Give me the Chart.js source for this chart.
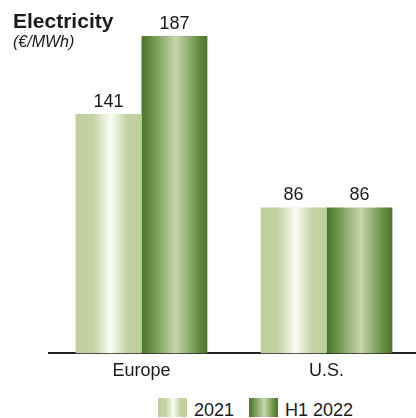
<!DOCTYPE html>
<html>
<head>
<meta charset="utf-8">
<script src="https://cdn.jsdelivr.net/npm/chart.js@4"></script>
<style>
  body {
    margin: 0;
    width: 416px;
    height: 418px;
    overflow: hidden;
    background: #fff;
    font-family: "Liberation Sans", Arial, sans-serif;
    color: #1a1a1a;
  }
  #painel {
    position: relative;
    width: 416px;
    height: 418px;
  }
  #grafico {
    position: absolute;
    left: 0;
    top: 0;
  }
  .titulo {
    position: absolute;
    left: 13px;
    top: 10px;
    font-size: 21px;
    font-weight: bold;
    line-height: 21px;
  }
  .unidade {
    position: absolute;
    left: 13px;
    top: 34px;
    font-size: 16px;
    font-style: italic;
    line-height: 16px;
  }
  #legenda {
    position: absolute;
    left: 158px;
    top: 398px;
    display: flex;
    gap: 15px;
  }
  .item-legenda {
    display: flex;
    align-items: flex-start;
    gap: 7px;
    font-size: 18px;
    line-height: 18px;
  }
  .item-legenda span {
    margin-top: 3px;
  }
  .caixa {
    width: 29px;
    height: 19px;
  }
</style>
</head>
<body>
<div id="painel">
  <canvas id="grafico" width="420" height="389"></canvas>
  <div class="titulo">Electricity</div>
  <div class="unidade">(€/MWh)</div>
  <div id="legenda"></div>
</div>

<script>
const regioes = ["Europe", "U.S."];
const precos2021 = [141, 86];
const precosH12022 = [187, 86];
const rotulosSeries = ["2021", "H1 2022"];

// paradas do degradê horizontal de cada série
const degradeClaro = [
  [0, "#c0d09d"],
  [0.26, "#c3d2a2"],
  [0.53, "#fbfcf6"],
  [0.78, "#c3d2a2"],
  [1, "#bfcf9b"],
];
const degradeEscuro = [
  [0, "#4b772a"],
  [0.1, "#5c8639"],
  [0.52, "#c6d6aa"],
  [0.9, "#5c8639"],
  [1, "#4a7529"],
];

const percentualCategoria = 0.712;

function preencherBarra(paradas) {
  return (context) => {
    const chart = context.chart;
    const area = chart.chartArea;
    const escalaX = chart.scales.x;
    if (!area || !escalaX) return paradas[0][1];

    const larguraCategoria = (area.right - area.left) / regioes.length;
    const larguraBarra = (larguraCategoria * percentualCategoria) / 2;
    const centro = escalaX.getPixelForValue(context.dataIndex);
    const inicio = centro - larguraBarra + context.datasetIndex * larguraBarra;

    const gradiente = chart.ctx.createLinearGradient(inicio, 0, inicio + larguraBarra, 0);
    paradas.forEach(([pos, cor]) => gradiente.addColorStop(pos, cor));
    return gradiente;
  };
}

// escreve o valor acima de cada barra
const valoresNasBarras = {
  id: "valoresNasBarras",
  afterDatasetsDraw(chart) {
    const ctx = chart.ctx;
    ctx.save();
    ctx.font = '18px "Liberation Sans", Arial, sans-serif';
    ctx.fillStyle = "#1a1a1a";
    ctx.textAlign = "center";
    ctx.textBaseline = "alphabetic";
    chart.data.datasets.forEach((dataset, i) => {
      chart.getDatasetMeta(i).data.forEach((barra, j) => {
        ctx.fillText(dataset.data[j], barra.x, barra.y - 7);
      });
    });
    ctx.restore();
  },
};

new Chart(document.getElementById("grafico"), {
  type: "bar",
  data: {
    labels: regioes,
    datasets: [
      {
        label: rotulosSeries[0],
        data: precos2021,
        backgroundColor: preencherBarra(degradeClaro),
        barPercentage: 1,
        categoryPercentage: percentualCategoria,
      },
      {
        label: rotulosSeries[1],
        data: precosH12022,
        backgroundColor: preencherBarra(degradeEscuro),
        barPercentage: 1,
        categoryPercentage: percentualCategoria,
      },
    ],
  },
  options: {
    responsive: false,
    animation: false,
    layout: {
      padding: { left: 49, right: 1, top: 14, bottom: 0 },
    },
    plugins: {
      legend: { display: false },
      tooltip: { enabled: false },
    },
    scales: {
      x: {
        grid: { display: false, drawTicks: false },
        border: { display: true, color: "#222", width: 2 },
        ticks: {
          color: "#1a1a1a",
          padding: 7,
          font: { family: '"Liberation Sans", Arial, sans-serif', size: 18 },
        },
      },
      y: {
        display: false,
        min: 0,
        max: 200,
      },
    },
  },
  plugins: [valoresNasBarras],
});

// legenda com as mesmas cores das barras
const legenda = document.getElementById("legenda");
[degradeClaro, degradeEscuro].forEach((paradas, i) => {
  const stops = paradas.map(([pos, cor]) => `${cor} ${pos * 100}%`).join(", ");
  legenda.innerHTML += `
    <div class="item-legenda">
      <div class="caixa" style="background: linear-gradient(to right, ${stops})"></div>
      <span>${rotulosSeries[i]}</span>
    </div>`;
});
</script>
</body>
</html>
